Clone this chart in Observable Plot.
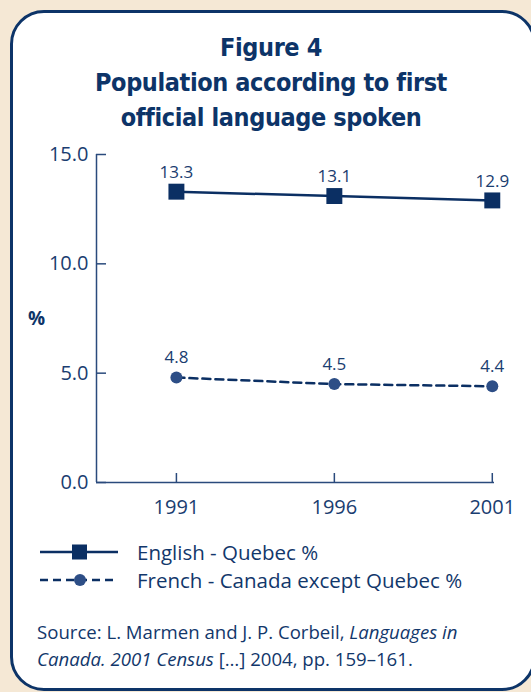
<!DOCTYPE html>
<html>
<head>
<meta charset="utf-8">
<script src="https://cdn.jsdelivr.net/npm/d3@7"></script>
<script src="https://cdn.jsdelivr.net/npm/@observablehq/plot@0.6"></script>
<style>
  html, body { margin: 0; padding: 0; }
  body { width: 531px; height: 692px; overflow: hidden; position: relative; background: #f5e8d5; font-family: "Open Sans", "Noto Sans", sans-serif; color: #12376b; }
  #box { position: absolute; left: 10px; top: 10px; width: 520px; height: 675px; border: 3px solid #0d3468; border-radius: 34px; background: #ffffff; }
  #title { position: absolute; left: 8px; width: 526px; top: 30px; text-align: center; font-family: "Liberation Sans Narrow", "DejaVu Sans Condensed", sans-serif; font-weight: bold; font-size: 25px; letter-spacing: -0.4px; line-height: 35px; color: #0d3468; }
  #chart { position: absolute; left: 0; top: 140px; }
  #ylab { position: absolute; left: 28px; top: 305px; font-weight: bold; font-size: 19px; color: #0d3468; }
  #legend { position: absolute; left: 40px; top: 538px; font-size: 20.5px; line-height: 28px; color: #12376b; }
  #legend div { display: flex; align-items: center; height: 28px; white-space: nowrap; }
  #legend svg { margin-right: 19px; flex: none; }
  #source { position: absolute; left: 37px; top: 618px; font-size: 18.6px; line-height: 27px; color: #12376b; white-space: nowrap; }
</style>
</head>
<body>
<div id="box"></div>
<div id="title">Figure 4<br>Population according to first<br>official language spoken</div>
<div id="chart"></div>
<div id="ylab">%</div>
<div id="legend"></div>
<div id="source">Source: L. Marmen and J. P. Corbeil, <i>Languages in</i><br><i>Canada. 2001 Census</i> […] 2004, pp. 159–161.</div>
<script>
const years = [1991, 1996, 2001];
const englishQuebec = [13.3, 13.1, 12.9];
const frenchCanadaExQuebec = [4.8, 4.5, 4.4];
const yTicks = [0, 5, 10, 15];
const seriesNames = ["English - Quebec %", "French - Canada except Quebec %"];

const navy = "#0b2f63";
const dotFill = "#2d4e86";
const xDomain = [1988.47, 2001.07];

const english = years.map((y, i) => ({year: y, value: englishQuebec[i]}));
const french = years.map((y, i) => ({year: y, value: frenchCanadaExQuebec[i]}));

const tickLenX = 10 / 31.6;   // inward y-axis tick length in years
const tickLenY = 9 / 21.9;    // inward x-axis tick length in %

const chart = Plot.plot({
  width: 531,
  height: 390,
  marginLeft: 96,
  marginRight: 37,
  marginTop: 14,
  marginBottom: 48,
  style: {fontFamily: "'Open Sans', 'Noto Sans', sans-serif", fontSize: "20px", color: "#1a3d70", background: "transparent"},
  x: {domain: xDomain},
  y: {domain: [0, 15]},
  marks: [
    Plot.axisY({ticks: yTicks, tickFormat: d3.format(".1f"), tickSize: 0, tickPadding: 8, fontSize: 20, label: null, fill: "#1a3d70"}),
    Plot.axisX({ticks: years, tickFormat: d3.format("d"), tickSize: 0, tickPadding: 17, fontSize: 20, label: null, fill: "#1a3d70"}),
    Plot.ruleY(yTicks, {x1: xDomain[0], x2: xDomain[0] + tickLenX, stroke: "#2a4a7c", strokeWidth: 1.5}),
    Plot.ruleX(years, {y1: 0, y2: tickLenY, stroke: "#2a4a7c", strokeWidth: 1.5}),
    Plot.ruleY([0], {x1: xDomain[0], x2: xDomain[1], stroke: "#2a4a7c", strokeWidth: 1.5}),
    Plot.ruleX([xDomain[0]], {y1: 0, y2: 15, stroke: "#2a4a7c", strokeWidth: 1.5}),
    Plot.line(english, {x: "year", y: "value", stroke: navy, strokeWidth: 2.5}),
    Plot.line(french, {x: "year", y: "value", stroke: navy, strokeWidth: 2.5, strokeDasharray: "8,5"}),
    Plot.dot(english, {x: "year", y: "value", symbol: "square", r: 9, fill: navy}),
    Plot.dot(french, {x: "year", y: "value", symbol: "circle", r: 6, fill: dotFill}),
    Plot.text(english, {x: "year", y: "value", text: d => d3.format(".1f")(d.value), dy: -19, fontSize: 17, fill: "#1a3d70"}),
    Plot.text(french, {x: "year", y: "value", text: d => d3.format(".1f")(d.value), dy: -20, fontSize: 17, fill: "#1a3d70"})
  ]
});
document.getElementById("chart").appendChild(chart);

const legend = document.getElementById("legend");
legend.innerHTML = `
  <div><svg width="78" height="20"><line x1="0" y1="10" x2="78" y2="10" stroke="${navy}" stroke-width="2.5"/><rect x="32" y="2.5" width="15" height="15" fill="${navy}"/></svg><span>${seriesNames[0]}</span></div>
  <div><svg width="78" height="20"><line x1="0" y1="10" x2="78" y2="10" stroke="${navy}" stroke-width="2.5" stroke-dasharray="8,5"/><circle cx="40" cy="10" r="6" fill="${dotFill}"/></svg><span>${seriesNames[1]}</span></div>`;
</script>
</body>
</html>
